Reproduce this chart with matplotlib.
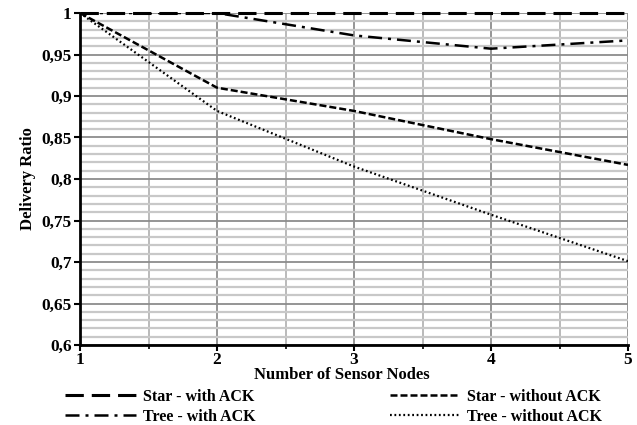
import matplotlib
matplotlib.use('Agg')
import matplotlib.pyplot as plt
from matplotlib.ticker import MultipleLocator, FuncFormatter

# data
nodes = [1, 2, 3, 4, 5]
star_ack = [1.0, 1.0, 1.0, 1.0, 1.0]
star_noack = [1.0, 0.910, 0.882, 0.848, 0.817]
tree_ack = [1.0, 1.0, 0.973, 0.957, 0.967]
tree_noack = [1.0, 0.882, 0.815, 0.757, 0.701]

plt.rcParams['font.family'] = ['Liberation Serif', 'DejaVu Serif']
plt.rcParams['font.weight'] = 'bold'

fig = plt.figure(figsize=(6.37, 4.25), dpi=100)
ax = fig.add_axes([80 / 637, 1 - 345 / 425, 548 / 637, 332 / 425])

ax.plot(nodes, star_ack, color='black', lw=2.2, dashes=(6, 2.6),
        label='Star - with ACK', zorder=5, clip_on=False)
ax.plot(nodes, tree_ack, color='black', lw=1.8, dashes=(5.6, 2.4, 1.2, 2.4),
        label='Tree - with ACK', zorder=4)
ax.plot(nodes, star_noack, color='black', lw=1.8, dashes=(2.8, 1.2),
        label='Star - without ACK', zorder=4)
ax.plot(nodes, tree_noack, color='black', lw=1.6, dashes=(0.8, 1.2),
        label='Tree - without ACK', zorder=4)

ax.set_xlim(1, 5)
ax.set_ylim(0.6, 1.0)
ax.xaxis.set_major_locator(MultipleLocator(1))
ax.xaxis.set_minor_locator(MultipleLocator(0.5))
ax.yaxis.set_major_locator(MultipleLocator(0.05))
ax.yaxis.set_minor_locator(MultipleLocator(0.01))

def comma(v, pos):
    s = f'{v:.2f}'.rstrip('0').rstrip('.')
    return s.replace('.', ',')

ax.yaxis.set_major_formatter(FuncFormatter(comma))

ax.grid(which='minor', axis='y', color='#c8c8c8', lw=1.6)
ax.grid(which='minor', axis='x', color='#b4b4b4', lw=1.3)
ax.grid(which='major', color='#8c8c8c', lw=1.3)
ax.set_axisbelow(True)

for s in ['top', 'right']:
    ax.spines[s].set_visible(False)
for s in ['left', 'bottom']:
    ax.spines[s].set_linewidth(2)

ax.tick_params(which='major', direction='out', length=4, width=1.5, labelsize=12.5, pad=2)
ax.tick_params(which='minor', axis='y', length=0)
ax.tick_params(which='minor', axis='x', length=3, width=1.2)
ax.tick_params(axis='x', pad=1)

ax.set_xlabel('Number of Sensor Nodes', fontsize=12, fontweight='bold')
ax.xaxis.set_label_coords(0.478, -0.065)
ax.set_ylabel('Delivery Ratio', fontsize=12, fontweight='bold', labelpad=4)

fig.legend(loc='center', bbox_to_anchor=(0.524, 1 - 407 / 425), ncol=2, frameon=False,
           fontsize=11.5, handlelength=4.4, columnspacing=8.4, labelspacing=0.25,
           handletextpad=0.45, borderpad=0.1)

fig.savefig('out.png', dpi=100)
